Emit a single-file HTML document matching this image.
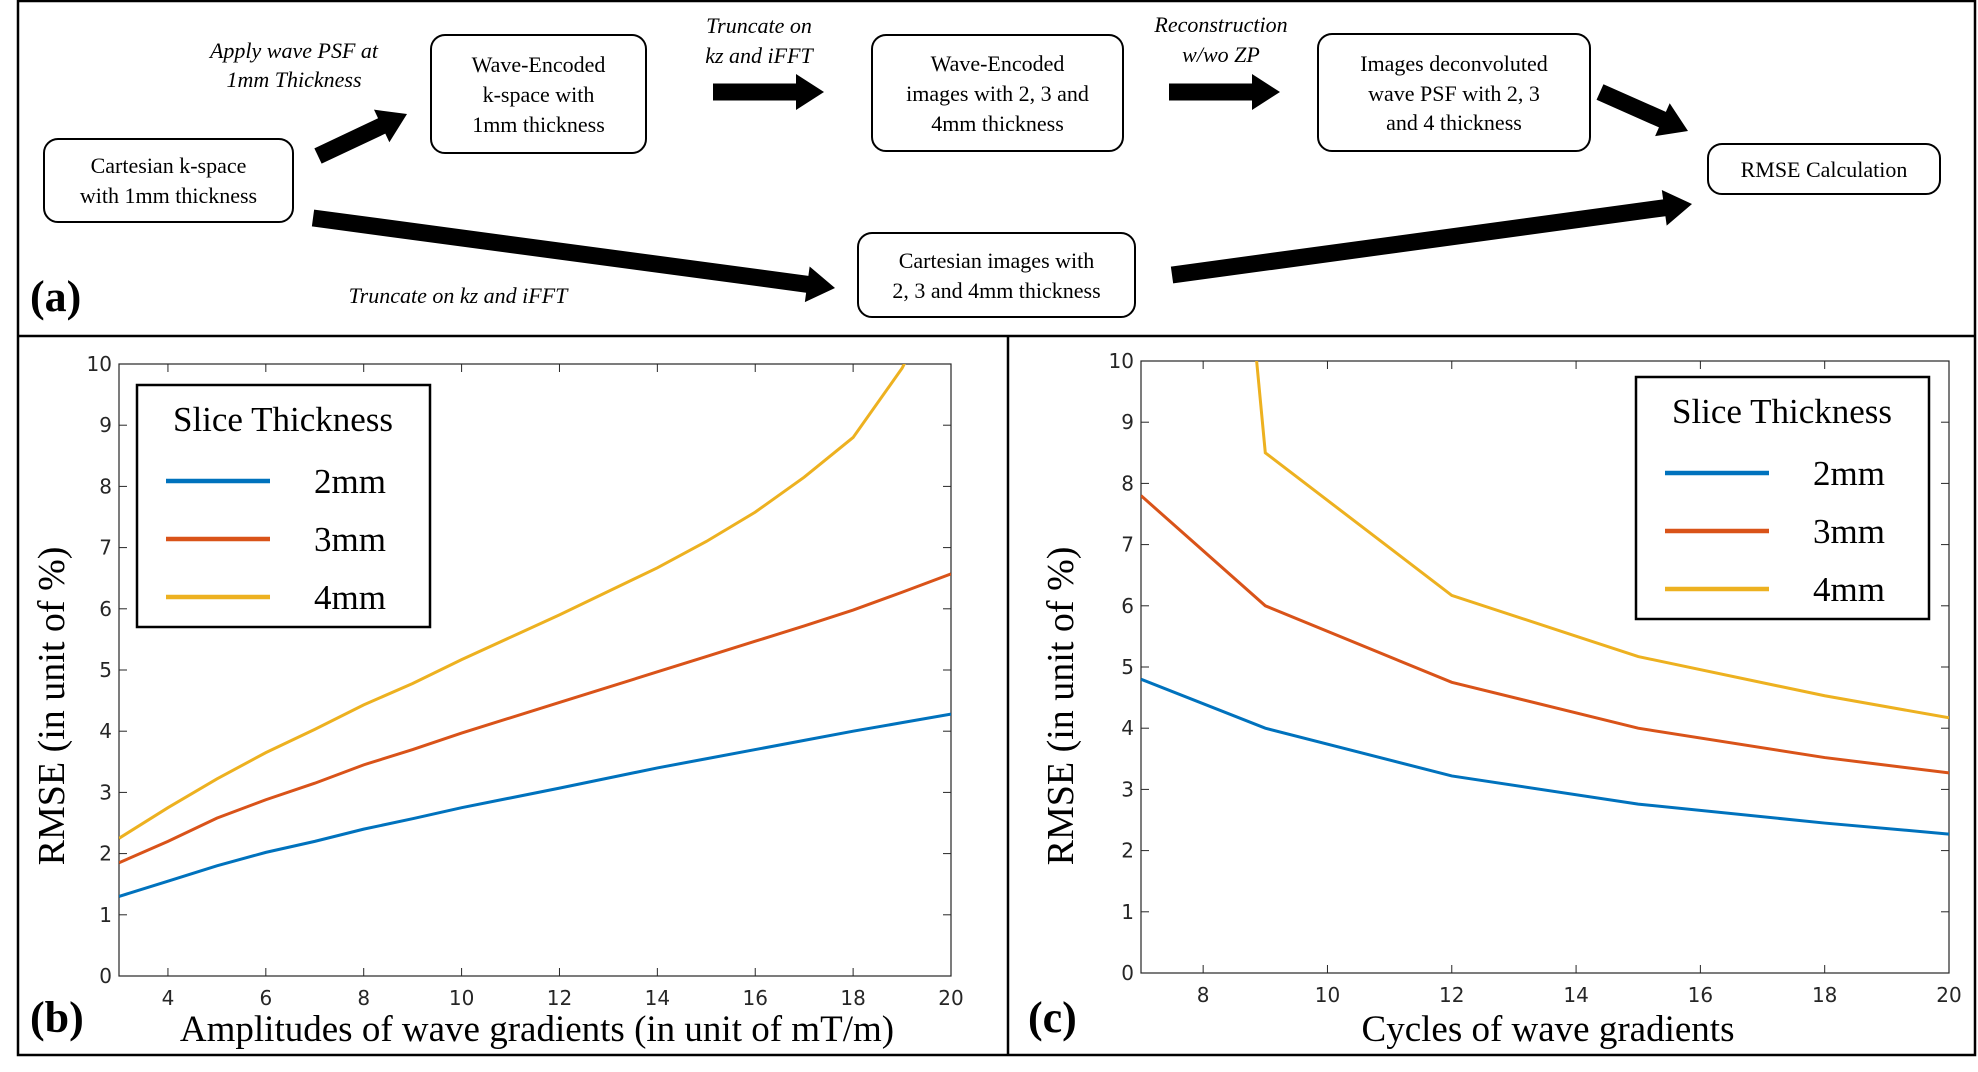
<!DOCTYPE html>
<html><head><meta charset="utf-8"><style>
body{margin:0;background:#fff;}
svg{display:block;}
.tk{font-family:"DejaVu Sans","Liberation Sans",sans-serif;font-size:20px;fill:#262626;}
.sf{font-family:"Liberation Serif",serif;}
</style></head><body>
<svg id="fig" width="1978" height="1072" viewBox="0 0 1978 1072" xmlns="http://www.w3.org/2000/svg">
<g fill="none" stroke="#000" stroke-width="2.5">
<rect x="18" y="1" width="1957" height="1054"/>
<line x1="18" y1="336" x2="1975" y2="336"/>
<line x1="1008" y1="336" x2="1008" y2="1055"/>
</g>
<g id="flow"></g>
<g id="chartB"></g>
<g id="chartC"></g>
</svg>
<script>
// ---- Chart (b) data ----
const ampX = [3,4,5,6,7,8,9,10,12,14,15,16,17,18,19,20];
const amp2mm = [1.3,1.55,1.8,2.02,2.2,2.4,2.57,2.75,3.07,3.4,3.55,3.7,3.85,4.0,4.14,4.28];
const amp3mm = [1.85,2.2,2.58,2.88,3.15,3.45,3.7,3.97,4.47,4.97,5.22,5.47,5.72,5.98,6.27,6.57];
const amp4mm = [2.25,2.75,3.22,3.65,4.03,4.43,4.78,5.17,5.9,6.67,7.1,7.58,8.15,8.8,9.93,11.5];
const ampTicks = [4,6,8,10,12,14,16,18,20];
// ---- Chart (c) data ----
const cycX = [7,9,12,15,18,20];
const cyc2mm = [4.8,4.0,3.22,2.76,2.45,2.27];
const cyc3mm = [7.8,6.0,4.75,4.0,3.52,3.27];
const cyc4mm = [30,8.5,6.17,5.17,4.53,4.17];
const cycTicks = [8,10,12,14,16,18,20];
const yTicks = [0,1,2,3,4,5,6,7,8,9,10];
const seriesNames = ['2mm','3mm','4mm'];
const colors = ['#0072BD','#D95319','#EDB120'];

const NS='http://www.w3.org/2000/svg';
function mk(tag,attrs,parent,text){const e=document.createElementNS(NS,tag);for(const k in attrs)e.setAttribute(k,attrs[k]);if(text!==undefined)e.textContent=text;parent.appendChild(e);return e;}

function chart(g,id,cfg){
  const {L,R,T,B,xmin,xmax,xs,series,xticks,legend,xtitle,tag,ytx}=cfg;
  const sx=v=>L+(v-xmin)/(xmax-xmin)*(R-L);
  const sy=v=>B-(v/10)*(B-T);
  const defs=mk('defs',{},g);
  const cp=mk('clipPath',{id:id+'clip'},defs);
  mk('rect',{x:L,y:T,width:R-L,height:B-T},cp);
  const tg=mk('g',{},g);
  
  
  yTicks.forEach(v=>{
    mk('line',{x1:L,x2:L+8,y1:sy(v),y2:sy(v),stroke:'#262626','stroke-width':1},tg);
    mk('line',{x1:R,x2:R-8,y1:sy(v),y2:sy(v),stroke:'#262626','stroke-width':1},tg);
    const t=mk('text',{x:L-7,y:sy(v)+7,'text-anchor':'end',class:'tk'},tg,String(v));
    
    
  });
  const xg=mk('g',{},g);
  
  
  xticks.forEach(v=>{
    mk('line',{x1:sx(v),x2:sx(v),y1:B,y2:B-8,stroke:'#262626','stroke-width':1},xg);
    mk('line',{x1:sx(v),x2:sx(v),y1:T,y2:T+8,stroke:'#262626','stroke-width':1},xg);
    const t=mk('text',{x:sx(v),y:B+29,'text-anchor':'middle',class:'tk'},xg,String(v));
    
    
  });
  const ax=mk('rect',{x:L,y:T,width:R-L,height:B-T,fill:'none',stroke:'#262626','stroke-width':1.2},g);
  
  
  series.forEach((s,i)=>{
    const p=mk('polyline',{points:xs.map((x,j)=>sx(x)+','+sy(s[j])).join(' '),fill:'none',stroke:colors[i],'stroke-width':3,'clip-path':'url(#'+id+'clip)'},g);
    
    
  });
  const lg=mk('g',{},g);
  
  
  mk('rect',{x:legend.x,y:legend.y,width:293,height:242,fill:'#fff',stroke:'#000','stroke-width':2.5},lg);
  mk('text',{x:legend.x+146,y:legend.y+46,'text-anchor':'middle',class:'sf','font-size':35},lg,'Slice Thickness');
  seriesNames.forEach((n,i)=>{
    const yy=legend.y+96+i*58;
    const e=mk('g',{},lg);
    
    
    mk('line',{x1:legend.x+29,x2:legend.x+133,y1:yy,y2:yy,stroke:colors[i],'stroke-width':4.5},e);
    mk('text',{x:legend.x+177,y:yy+12,class:'sf','font-size':35},e,n);
  });
  const yt=mk('text',{transform:'translate('+ytx+',706) rotate(-90)','text-anchor':'middle',class:'sf','font-size':38},g,'RMSE (in unit of %)');
  
  
  const xt=mk('text',{x:xtitle.x,y:1041,'text-anchor':'middle',class:'sf','font-size':37},g,xtitle.t);
  
  
  const tt=mk('text',{x:tag.x,y:1032,class:'sf','font-size':44,'font-weight':'bold'},g,tag.t);
  
  
}
chart(document.getElementById('chartB'),'b',{L:119,R:951,T:364,B:976,xmin:3,xmax:20,xs:ampX,series:[amp2mm,amp3mm,amp4mm],xticks:ampTicks,legend:{x:137,y:385},xtitle:{x:537,t:'Amplitudes of wave gradients (in unit of mT/m)'},tag:{x:30,t:'(b)'},ytx:64});
chart(document.getElementById('chartC'),'c',{L:1141,R:1949,T:361,B:973,xmin:7,xmax:20,xs:cycX,series:[cyc2mm,cyc3mm,cyc4mm],xticks:cycTicks,legend:{x:1636,y:377},xtitle:{x:1548,t:'Cycles of wave gradients'},tag:{x:1028,t:'(c)'},ytx:1073});

// ---- flowchart ----
const F=document.getElementById('flow');
const boxes=[
 {n:'cartesian-kspace-box',x:44,y:139,w:249,h:83,l:['Cartesian k-space','with 1mm thickness'],ty:[173,203]},
 {n:'wave-encoded-kspace-box',x:431,y:35,w:215,h:118,l:['Wave-Encoded','k-space with','1mm thickness'],ty:[72,102,132]},
 {n:'wave-encoded-images-box',x:872,y:35,w:251,h:116,l:['Wave-Encoded','images with 2, 3 and','4mm thickness'],ty:[71,101,131]},
 {n:'deconvoluted-images-box',x:1318,y:34,w:272,h:117,l:['Images deconvoluted','wave PSF with 2, 3','and 4 thickness'],ty:[71,101,130]},
 {n:'rmse-calculation-box',x:1708,y:144,w:232,h:50,l:['RMSE Calculation'],ty:[177]},
 {n:'cartesian-images-box',x:858,y:233,w:277,h:84,l:['Cartesian images with','2, 3 and 4mm thickness'],ty:[268,298]}
];
boxes.forEach(b=>{
  const g=mk('g',{},F);
  
  
  mk('rect',{x:b.x,y:b.y,width:b.w,height:b.h,rx:14,fill:'#fff',stroke:'#000','stroke-width':2},g);
  b.l.forEach((t,i)=>mk('text',{x:b.x+b.w/2,y:b.ty[i],'text-anchor':'middle',class:'sf','font-size':22},g,t));
});
const arrows=[[318,156,407,114],[713,92,824,92],[1169,92,1280,92],[1600,92,1688,131],[313,218,835,288],[1172,275,1692,204]];
arrows.forEach((a,i)=>{
  const [x1,y1,x2,y2]=a;const dx=x2-x1,dy=y2-y1,len=Math.hypot(dx,dy),ux=dx/len,uy=dy/len,px=-uy,py=ux;
  const hl=28,sw=8.5,hw=18;const bx=x2-ux*hl,by=y2-uy*hl;
  const pts=[[x1+px*sw,y1+py*sw],[bx+px*sw,by+py*sw],[bx+px*hw,by+py*hw],[x2,y2],[bx-px*hw,by-py*hw],[bx-px*sw,by-py*sw],[x1-px*sw,y1-py*sw]];
  const p=mk('polygon',{points:pts.map(q=>q.join(',')).join(' '),fill:'#000'},F);
  
  
});
const labels=[['Apply wave PSF at',294,58],['1mm Thickness',294,87],['Truncate on',759,33],['kz and iFFT',759,63],['Reconstruction',1221,32],['w/wo ZP',1221,62],['Truncate on kz and iFFT',458,303]];
labels.forEach(l=>{
  const t=mk('text',{x:l[1],y:l[2],'text-anchor':'middle',class:'sf','font-size':22,'font-style':'italic'},F,l[0]);
  
  
});
const ta=mk('text',{x:30,y:311,class:'sf','font-size':44,'font-weight':'bold'},F,'(a)');


</script>
</body></html>
